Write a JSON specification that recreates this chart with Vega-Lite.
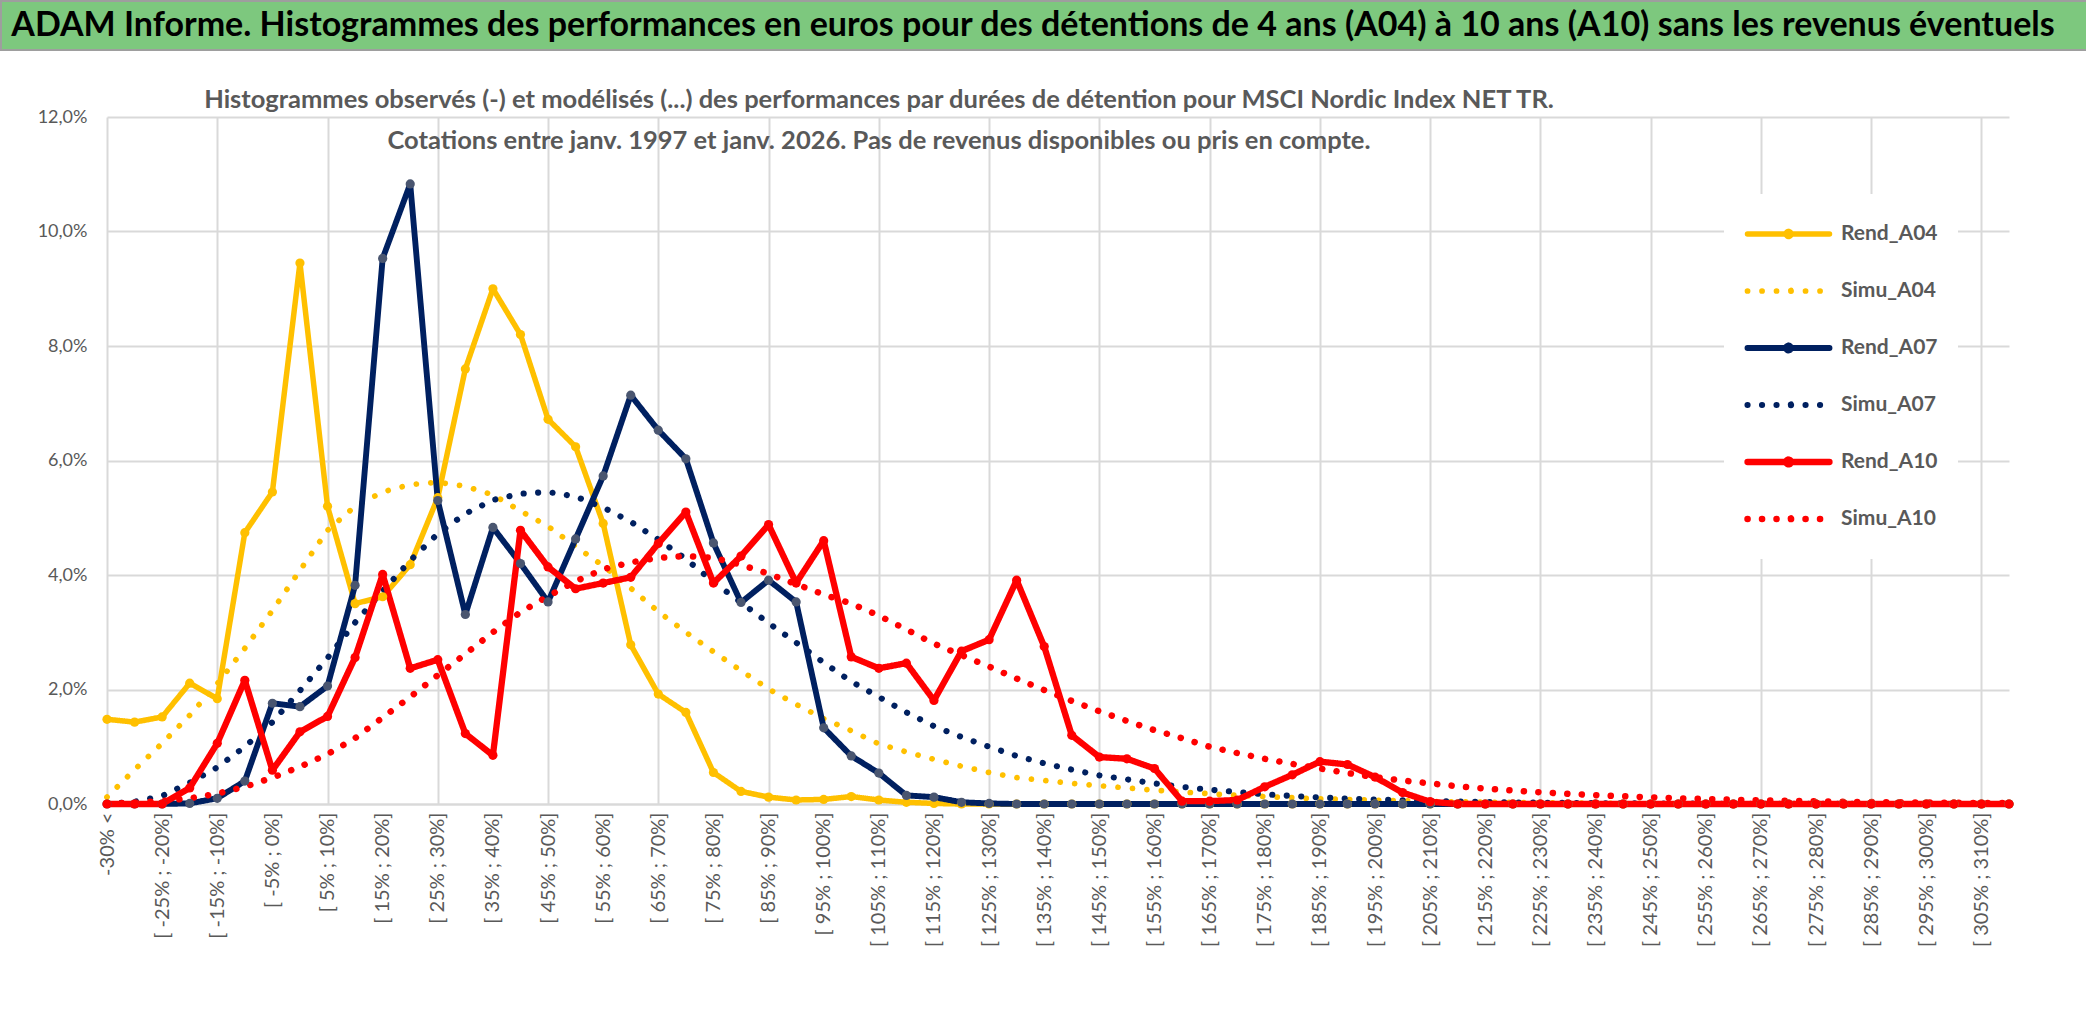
{
  "$schema": "https://vega.github.io/schema/vega-lite/v6.json",
  "padding": 0,
  "background": "white",
  "spacing": 36,
  "config": {
    "font": "Lato",
    "axis": {"labelFont": "Lato", "labelColor": "#595959"},
    "legend": {
      "orient": "none",
      "legendX": 1723,
      "legendY": 193,
      "fillColor": "white",
      "padding": 20,
      "symbolSize": 6724,
      "clipHeight": 40,
      "rowPadding": 17,
      "labelFontSize": 21,
      "labelFontWeight": "bold",
      "labelFont": "Lato",
      "labelColor": "#595959",
      "labelOffset": 8,
      "symbolOpacity": 1
    }
  },
  "vconcat": [
    {
      "width": 2086,
      "height": 49,
      "view": {"fill": "#7DC87E", "stroke": "#9E9E9E", "strokeWidth": 2},
      "data": {"values": [{"t": "ADAM Informe. Histogrammes des performances en euros pour des détentions de 4 ans (A04) à 10 ans (A10) sans les revenus éventuels"}]},
      "mark": {"type": "text", "font": "Lato", "fontWeight": "bold", "fontSize": 34, "color": "#000000", "align": "center", "baseline": "middle", "dx": -11},
      "encoding": {"text": {"field": "t", "type": "nominal"}}
    },
    {
      "width": 2086,
      "height": 687,
      "view": {"stroke": null, "fill": "white"},
      "title": {
        "text": ["Histogrammes observés (-) et modélisés (...) des performances par durées de détention pour MSCI Nordic Index NET TR.", "Cotations entre janv. 1997 et janv. 2026. Pas de revenus disponibles ou pris en compte."],
        "anchor": "start",
        "frame": "group",
        "align": "center",
        "dx": 878,
        "offset": -66,
        "baseline": "alphabetic",
        "lineHeight": 41,
        "fontSize": 25.5,
        "fontWeight": "bold",
        "font": "Lato",
        "color": "#595959"
      },
      "data": {"values": [
        {"c": "-30% <", "Rend_A04": 0.0148, "Simu_A04": 0.0012, "Rend_A07": 0, "Simu_A07": 0, "Rend_A10": 0, "Simu_A10": 0.0001},
        {"c": "[ -30% ; -25%]", "Rend_A04": 0.0143, "Simu_A04": 0.006, "Rend_A07": 0, "Simu_A07": 0.0004, "Rend_A10": 0, "Simu_A10": 0.0002},
        {"c": "[ -25% ; -20%]", "Rend_A04": 0.0152, "Simu_A04": 0.0106, "Rend_A07": 0, "Simu_A07": 0.0014, "Rend_A10": 0, "Simu_A10": 0.0005},
        {"c": "[ -20% ; -15%]", "Rend_A04": 0.0211, "Simu_A04": 0.0155, "Rend_A07": 0.0001, "Simu_A07": 0.0037, "Rend_A10": 0.0028, "Simu_A10": 0.001},
        {"c": "[ -15% ; -10%]", "Rend_A04": 0.0184, "Simu_A04": 0.021, "Rend_A07": 0.001, "Simu_A07": 0.0064, "Rend_A10": 0.0106, "Simu_A10": 0.0018},
        {"c": "[ -10% ; -5%]", "Rend_A04": 0.0474, "Simu_A04": 0.0272, "Rend_A07": 0.004, "Simu_A07": 0.01, "Rend_A10": 0.0216, "Simu_A10": 0.003},
        {"c": "[ -5% ; 0%]", "Rend_A04": 0.0545, "Simu_A04": 0.0338, "Rend_A07": 0.0176, "Simu_A07": 0.0143, "Rend_A10": 0.0059, "Simu_A10": 0.0046},
        {"c": "[ 0% ; 5%]", "Rend_A04": 0.0945, "Simu_A04": 0.0408, "Rend_A07": 0.017, "Simu_A07": 0.0198, "Rend_A10": 0.0126, "Simu_A10": 0.0065},
        {"c": "[ 5% ; 10%]", "Rend_A04": 0.052, "Simu_A04": 0.0478, "Rend_A07": 0.0206, "Simu_A07": 0.0255, "Rend_A10": 0.0153, "Simu_A10": 0.0087},
        {"c": "[ 10% ; 15%]", "Rend_A04": 0.035, "Simu_A04": 0.052, "Rend_A07": 0.0382, "Simu_A07": 0.0317, "Rend_A10": 0.0256, "Simu_A10": 0.0115},
        {"c": "[ 15% ; 20%]", "Rend_A04": 0.0362, "Simu_A04": 0.0545, "Rend_A07": 0.0953, "Simu_A07": 0.0372, "Rend_A10": 0.0401, "Simu_A10": 0.0151},
        {"c": "[ 20% ; 25%]", "Rend_A04": 0.0418, "Simu_A04": 0.0558, "Rend_A07": 0.1083, "Simu_A07": 0.0425, "Rend_A10": 0.0237, "Simu_A10": 0.0187},
        {"c": "[ 25% ; 30%]", "Rend_A04": 0.0535, "Simu_A04": 0.0562, "Rend_A07": 0.053, "Simu_A07": 0.0472, "Rend_A10": 0.0252, "Simu_A10": 0.0225},
        {"c": "[ 30% ; 35%]", "Rend_A04": 0.076, "Simu_A04": 0.0555, "Rend_A07": 0.0331, "Simu_A07": 0.0507, "Rend_A10": 0.0123, "Simu_A10": 0.0262},
        {"c": "[ 35% ; 40%]", "Rend_A04": 0.09, "Simu_A04": 0.054, "Rend_A07": 0.0483, "Simu_A07": 0.0531, "Rend_A10": 0.0085, "Simu_A10": 0.03},
        {"c": "[ 40% ; 45%]", "Rend_A04": 0.082, "Simu_A04": 0.0512, "Rend_A07": 0.042, "Simu_A07": 0.0542, "Rend_A10": 0.0478, "Simu_A10": 0.0335},
        {"c": "[ 45% ; 50%]", "Rend_A04": 0.0672, "Simu_A04": 0.0485, "Rend_A07": 0.0353, "Simu_A07": 0.0545, "Rend_A10": 0.0414, "Simu_A10": 0.0363},
        {"c": "[ 50% ; 55%]", "Rend_A04": 0.0624, "Simu_A04": 0.045, "Rend_A07": 0.0463, "Simu_A07": 0.0537, "Rend_A10": 0.0376, "Simu_A10": 0.0389},
        {"c": "[ 55% ; 60%]", "Rend_A04": 0.049, "Simu_A04": 0.0416, "Rend_A07": 0.0573, "Simu_A07": 0.0518, "Rend_A10": 0.0386, "Simu_A10": 0.041},
        {"c": "[ 60% ; 65%]", "Rend_A04": 0.0278, "Simu_A04": 0.0377, "Rend_A07": 0.0714, "Simu_A07": 0.0493, "Rend_A10": 0.0396, "Simu_A10": 0.0422},
        {"c": "[ 65% ; 70%]", "Rend_A04": 0.0192, "Simu_A04": 0.0336, "Rend_A07": 0.0653, "Simu_A07": 0.0462, "Rend_A10": 0.0455, "Simu_A10": 0.043},
        {"c": "[ 70% ; 75%]", "Rend_A04": 0.016, "Simu_A04": 0.03, "Rend_A07": 0.0603, "Simu_A07": 0.0428, "Rend_A10": 0.051, "Simu_A10": 0.0433},
        {"c": "[ 75% ; 80%]", "Rend_A04": 0.0055, "Simu_A04": 0.0266, "Rend_A07": 0.0456, "Simu_A07": 0.0388, "Rend_A10": 0.0386, "Simu_A10": 0.043},
        {"c": "[ 80% ; 85%]", "Rend_A04": 0.0022, "Simu_A04": 0.0233, "Rend_A07": 0.0352, "Simu_A07": 0.0352, "Rend_A10": 0.0433, "Simu_A10": 0.0418},
        {"c": "[ 85% ; 90%]", "Rend_A04": 0.0012, "Simu_A04": 0.0201, "Rend_A07": 0.0391, "Simu_A07": 0.0316, "Rend_A10": 0.0488, "Simu_A10": 0.0402},
        {"c": "[ 90% ; 95%]", "Rend_A04": 0.0007, "Simu_A04": 0.0174, "Rend_A07": 0.0353, "Simu_A07": 0.0282, "Rend_A10": 0.0386, "Simu_A10": 0.0384},
        {"c": "[ 95% ; 100%]", "Rend_A04": 0.0008, "Simu_A04": 0.0149, "Rend_A07": 0.0133, "Simu_A07": 0.0247, "Rend_A10": 0.046, "Simu_A10": 0.0366},
        {"c": "[ 100% ; 105%]", "Rend_A04": 0.0013, "Simu_A04": 0.0128, "Rend_A07": 0.0084, "Simu_A07": 0.0214, "Rend_A10": 0.0257, "Simu_A10": 0.035},
        {"c": "[ 105% ; 110%]", "Rend_A04": 0.0007, "Simu_A04": 0.0105, "Rend_A07": 0.0054, "Simu_A07": 0.0187, "Rend_A10": 0.0237, "Simu_A10": 0.0329},
        {"c": "[ 110% ; 115%]", "Rend_A04": 0.0003, "Simu_A04": 0.0091, "Rend_A07": 0.0015, "Simu_A07": 0.016, "Rend_A10": 0.0246, "Simu_A10": 0.0305},
        {"c": "[ 115% ; 120%]", "Rend_A04": 0.0001, "Simu_A04": 0.0078, "Rend_A07": 0.0012, "Simu_A07": 0.0136, "Rend_A10": 0.0181, "Simu_A10": 0.028},
        {"c": "[ 120% ; 125%]", "Rend_A04": 0, "Simu_A04": 0.0066, "Rend_A07": 0.0003, "Simu_A07": 0.0117, "Rend_A10": 0.0267, "Simu_A10": 0.026},
        {"c": "[ 125% ; 130%]", "Rend_A04": 0, "Simu_A04": 0.0055, "Rend_A07": 0.0001, "Simu_A07": 0.01, "Rend_A10": 0.0287, "Simu_A10": 0.024},
        {"c": "[ 130% ; 135%]", "Rend_A04": 0, "Simu_A04": 0.0046, "Rend_A07": 0, "Simu_A07": 0.0084, "Rend_A10": 0.0391, "Simu_A10": 0.0219},
        {"c": "[ 135% ; 140%]", "Rend_A04": 0, "Simu_A04": 0.0041, "Rend_A07": 0, "Simu_A07": 0.0071, "Rend_A10": 0.0275, "Simu_A10": 0.0199},
        {"c": "[ 140% ; 145%]", "Rend_A04": 0, "Simu_A04": 0.0036, "Rend_A07": 0, "Simu_A07": 0.006, "Rend_A10": 0.012, "Simu_A10": 0.018},
        {"c": "[ 145% ; 150%]", "Rend_A04": 0, "Simu_A04": 0.0032, "Rend_A07": 0, "Simu_A07": 0.005, "Rend_A10": 0.0082, "Simu_A10": 0.0162},
        {"c": "[ 150% ; 155%]", "Rend_A04": 0, "Simu_A04": 0.0028, "Rend_A07": 0, "Simu_A07": 0.0043, "Rend_A10": 0.0079, "Simu_A10": 0.0145},
        {"c": "[ 155% ; 160%]", "Rend_A04": 0, "Simu_A04": 0.0024, "Rend_A07": 0, "Simu_A07": 0.0036, "Rend_A10": 0.0062, "Simu_A10": 0.0129},
        {"c": "[ 160% ; 165%]", "Rend_A04": 0, "Simu_A04": 0.0021, "Rend_A07": 0, "Simu_A07": 0.003, "Rend_A10": 0.0005, "Simu_A10": 0.0115},
        {"c": "[ 165% ; 170%]", "Rend_A04": 0, "Simu_A04": 0.0018, "Rend_A07": 0, "Simu_A07": 0.0025, "Rend_A10": 0.0005, "Simu_A10": 0.01},
        {"c": "[ 170% ; 175%]", "Rend_A04": 0, "Simu_A04": 0.0015, "Rend_A07": 0, "Simu_A07": 0.0021, "Rend_A10": 0.0007, "Simu_A10": 0.0089},
        {"c": "[ 175% ; 180%]", "Rend_A04": 0, "Simu_A04": 0.0013, "Rend_A07": 0, "Simu_A07": 0.0017, "Rend_A10": 0.003, "Simu_A10": 0.0079},
        {"c": "[ 180% ; 185%]", "Rend_A04": 0, "Simu_A04": 0.0011, "Rend_A07": 0, "Simu_A07": 0.0014, "Rend_A10": 0.0051, "Simu_A10": 0.007},
        {"c": "[ 185% ; 190%]", "Rend_A04": 0, "Simu_A04": 0.0009, "Rend_A07": 0, "Simu_A07": 0.00115, "Rend_A10": 0.0074, "Simu_A10": 0.0062},
        {"c": "[ 190% ; 195%]", "Rend_A04": 0, "Simu_A04": 0.0008, "Rend_A07": 0, "Simu_A07": 0.00095, "Rend_A10": 0.0069, "Simu_A10": 0.0054},
        {"c": "[ 195% ; 200%]", "Rend_A04": 0, "Simu_A04": 0.00065, "Rend_A07": 0, "Simu_A07": 0.00078, "Rend_A10": 0.0047, "Simu_A10": 0.0047},
        {"c": "[ 200% ; 205%]", "Rend_A04": 0, "Simu_A04": 0.00055, "Rend_A07": 0, "Simu_A07": 0.00064, "Rend_A10": 0.002, "Simu_A10": 0.0041},
        {"c": "[ 205% ; 210%]", "Rend_A04": 0, "Simu_A04": 0.00045, "Rend_A07": 0, "Simu_A07": 0.00052, "Rend_A10": 0.0004, "Simu_A10": 0.0036},
        {"c": "[ 210% ; 215%]", "Rend_A04": 0, "Simu_A04": 0.00038, "Rend_A07": 0, "Simu_A07": 0.00042, "Rend_A10": 0, "Simu_A10": 0.0031},
        {"c": "[ 215% ; 220%]", "Rend_A04": 0, "Simu_A04": 0.00031, "Rend_A07": 0, "Simu_A07": 0.00034, "Rend_A10": 0, "Simu_A10": 0.0027},
        {"c": "[ 220% ; 225%]", "Rend_A04": 0, "Simu_A04": 0.00026, "Rend_A07": 0, "Simu_A07": 0.00028, "Rend_A10": 0, "Simu_A10": 0.00235},
        {"c": "[ 225% ; 230%]", "Rend_A04": 0, "Simu_A04": 0.00021, "Rend_A07": 0, "Simu_A07": 0.00022, "Rend_A10": 0, "Simu_A10": 0.00205},
        {"c": "[ 230% ; 235%]", "Rend_A04": 0, "Simu_A04": 0.00017, "Rend_A07": 0, "Simu_A07": 0.00018, "Rend_A10": 0, "Simu_A10": 0.00178},
        {"c": "[ 235% ; 240%]", "Rend_A04": 0, "Simu_A04": 0.00014, "Rend_A07": 0, "Simu_A07": 0.00014, "Rend_A10": 0, "Simu_A10": 0.00155},
        {"c": "[ 240% ; 245%]", "Rend_A04": 0, "Simu_A04": 0.00012, "Rend_A07": 0, "Simu_A07": 0.00011, "Rend_A10": 0, "Simu_A10": 0.00135},
        {"c": "[ 245% ; 250%]", "Rend_A04": 0, "Simu_A04": 0.0001, "Rend_A07": 0, "Simu_A07": 0.00009, "Rend_A10": 0, "Simu_A10": 0.00117},
        {"c": "[ 250% ; 255%]", "Rend_A04": 0, "Simu_A04": 0.00008, "Rend_A07": 0, "Simu_A07": 0.00007, "Rend_A10": 0, "Simu_A10": 0.001},
        {"c": "[ 255% ; 260%]", "Rend_A04": 0, "Simu_A04": 0.00007, "Rend_A07": 0, "Simu_A07": 0.00006, "Rend_A10": 0, "Simu_A10": 0.00087},
        {"c": "[ 260% ; 265%]", "Rend_A04": 0, "Simu_A04": 0.00006, "Rend_A07": 0, "Simu_A07": 0.00005, "Rend_A10": 0, "Simu_A10": 0.00075},
        {"c": "[ 265% ; 270%]", "Rend_A04": 0, "Simu_A04": 0.00005, "Rend_A07": 0, "Simu_A07": 0.00004, "Rend_A10": 0, "Simu_A10": 0.00064},
        {"c": "[ 270% ; 275%]", "Rend_A04": 0, "Simu_A04": 0.00004, "Rend_A07": 0, "Simu_A07": 0.00003, "Rend_A10": 0, "Simu_A10": 0.00055},
        {"c": "[ 275% ; 280%]", "Rend_A04": 0, "Simu_A04": 0.00003, "Rend_A07": 0, "Simu_A07": 0.00002, "Rend_A10": 0, "Simu_A10": 0.00047},
        {"c": "[ 280% ; 285%]", "Rend_A04": 0, "Simu_A04": 0.00003, "Rend_A07": 0, "Simu_A07": 0.00002, "Rend_A10": 0, "Simu_A10": 0.0004},
        {"c": "[ 285% ; 290%]", "Rend_A04": 0, "Simu_A04": 0.00002, "Rend_A07": 0, "Simu_A07": 0.00001, "Rend_A10": 0, "Simu_A10": 0.00034},
        {"c": "[ 290% ; 295%]", "Rend_A04": 0, "Simu_A04": 0.00002, "Rend_A07": 0, "Simu_A07": 0.00001, "Rend_A10": 0, "Simu_A10": 0.00029},
        {"c": "[ 295% ; 300%]", "Rend_A04": 0, "Simu_A04": 0.00002, "Rend_A07": 0, "Simu_A07": 0.00001, "Rend_A10": 0, "Simu_A10": 0.00025},
        {"c": "[ 300% ; 305%]", "Rend_A04": 0, "Simu_A04": 0.00001, "Rend_A07": 0, "Simu_A07": 0.00001, "Rend_A10": 0, "Simu_A10": 0.00021},
        {"c": "[ 305% ; 310%]", "Rend_A04": 0, "Simu_A04": 0.00001, "Rend_A07": 0, "Simu_A07": 0.00001, "Rend_A10": 0, "Simu_A10": 0.00018},
        {"c": "[ 310% ; 315%]", "Rend_A04": 0, "Simu_A04": 0.00001, "Rend_A07": 0, "Simu_A07": 0.00001, "Rend_A10": 0, "Simu_A10": 0.00015}
      ]},
      "transform": [
        {"fold": ["Rend_A04", "Simu_A04", "Rend_A07", "Simu_A07", "Rend_A10", "Simu_A10"], "as": ["series", "value"]}
      ],
      "resolve": {"axis": {"x": "independent"}},
      "layer": [
        {
          "mark": {"type": "line", "strokeCap": "round", "strokeJoin": "round"},
          "encoding": {
            "x": {
              "field": "c", "type": "ordinal", "sort": null,
              "scale": {"type": "point", "range": [106, 2008], "padding": 0},
              "axis": {
                "orient": "bottom",
                "title": null,
                "grid": false,
                "ticks": false,
                "domain": true,
                "domainColor": "#D9D9D9",
                "domainWidth": 2,
                "labelAngle": -90,
                "labelPadding": 8,
                "labelFontSize": 20,
                "labelColor": "#595959",
                "labelOverlap": false,
                "labelLimit": 400,
                "values": ["-30% <", "[ -25% ; -20%]", "[ -15% ; -10%]", "[ -5% ; 0%]", "[ 5% ; 10%]", "[ 15% ; 20%]", "[ 25% ; 30%]", "[ 35% ; 40%]", "[ 45% ; 50%]", "[ 55% ; 60%]", "[ 65% ; 70%]", "[ 75% ; 80%]", "[ 85% ; 90%]", "[ 95% ; 100%]", "[ 105% ; 110%]", "[ 115% ; 120%]", "[ 125% ; 130%]", "[ 135% ; 140%]", "[ 145% ; 150%]", "[ 155% ; 160%]", "[ 165% ; 170%]", "[ 175% ; 180%]", "[ 185% ; 190%]", "[ 195% ; 200%]", "[ 205% ; 210%]", "[ 215% ; 220%]", "[ 225% ; 230%]", "[ 235% ; 240%]", "[ 245% ; 250%]", "[ 255% ; 260%]", "[ 265% ; 270%]", "[ 275% ; 280%]", "[ 285% ; 290%]", "[ 295% ; 300%]", "[ 305% ; 310%]"]
              }
            },
            "y": {
              "field": "value", "type": "quantitative",
              "scale": {"domain": [0, 0.12], "nice": false},
              "axis": {
                "orient": "left",
                "offset": -106,
                "title": null,
                "values": [0, 0.02, 0.04, 0.06, 0.08, 0.1, 0.12],
                "labelExpr": "replace(format(datum.value, '.1%'), '.', ',')",
                "grid": true,
                "gridColor": "#D9D9D9",
                "gridWidth": 2,
                "domain": false,
                "ticks": false,
                "labelPadding": 20,
                "labelFontSize": 18,
                "labelColor": "#595959"
              }
            },
            "color": {
              "field": "series", "type": "nominal",
              "scale": {"domain": ["Rend_A04", "Simu_A04", "Rend_A07", "Simu_A07", "Rend_A10", "Simu_A10"], "range": ["#FFC000", "#FFC000", "#002060", "#002060", "#FF0000", "#FF0000"]},
              "legend": {
                "title": null,
                "orient": "none",
                "legendX": 1723,
                "legendY": 193,
                "symbolType": "M-1,0L1,0M0.06,0A0.06,0.06,0,1,1,-0.06,0A0.06,0.06,0,1,1,0.06,0",
                "encoding": {"symbols": {"strokeCap": {"value": "round"}}}
              }
            },
            "strokeDash": {
              "field": "series", "type": "nominal",
              "scale": {"domain": ["Rend_A04", "Simu_A04", "Rend_A07", "Simu_A07", "Rend_A10", "Simu_A10"], "range": [[1, 0], [0.1, 14.4], [1, 0], [0.1, 14.4], [1, 0], [0.1, 14.4]]},
              "legend": {"title": null}
            },
            "strokeWidth": {
              "field": "series", "type": "nominal",
              "scale": {"domain": ["Rend_A04", "Simu_A04", "Rend_A07", "Simu_A07", "Rend_A10", "Simu_A10"], "range": [5.5, 6.5, 5.5, 6.5, 5.5, 6.5]},
              "legend": {"title": null}
            }
          }
        },
        {
          "transform": [{"filter": {"field": "series", "oneOf": ["Rend_A04", "Rend_A07", "Rend_A10"]}}],
          "mark": {"type": "circle", "size": 85, "opacity": 1},
          "encoding": {
            "x": {
              "field": "c", "type": "ordinal", "sort": null,
              "axis": {
                "orient": "bottom",
                "title": null,
                "grid": true,
                "gridColor": "#D9D9D9",
                "gridWidth": 2,
                "labels": false,
                "ticks": false,
                "domain": false,
                "values": ["-30% <", "[ -15% ; -10%]", "[ 5% ; 10%]", "[ 25% ; 30%]", "[ 45% ; 50%]", "[ 65% ; 70%]", "[ 85% ; 90%]", "[ 105% ; 110%]", "[ 125% ; 130%]", "[ 145% ; 150%]", "[ 165% ; 170%]", "[ 185% ; 190%]", "[ 205% ; 210%]", "[ 225% ; 230%]", "[ 245% ; 250%]", "[ 265% ; 270%]", "[ 285% ; 290%]", "[ 305% ; 310%]"]
              }
            },
            "y": {"field": "value", "type": "quantitative"},
            "fill": {
              "field": "series", "type": "nominal",
              "scale": {"domain": ["Rend_A04", "Rend_A07", "Rend_A10"], "range": ["#FFC000", "#4A5670", "#FF0000"]},
              "legend": null
            }
          }
        }
      ]
    }
  ]
}
